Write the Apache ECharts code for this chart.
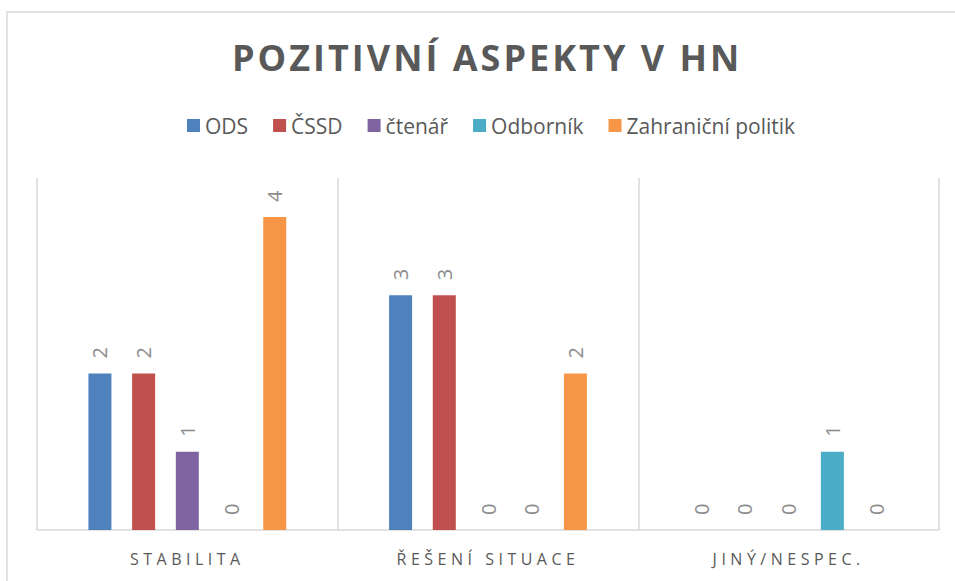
<!DOCTYPE html>
<html><head><meta charset="utf-8">
<script src="https://cdn.jsdelivr.net/npm/echarts@6/dist/echarts.min.js"></script>
<style>html,body{margin:0;padding:0;background:#fff}#c{width:955px;height:581px}</style>
</head><body><div id="c"></div>
<script>
const titleText = 'POZITIVNÍ ASPEKTY V HN';
const categories = ['STABILITA', 'ŘEŠENÍ SITUACE', 'JINÝ/NESPEC.'];
const seriesNames = ['ODS', 'ČSSD', 'čtenář', 'Odborník', 'Zahraniční politik'];
const ods = [2, 3, 0];
const cssd = [2, 3, 0];
const ctenar = [1, 0, 0];
const odbornik = [0, 0, 1];
const zahranicni = [4, 2, 0];
const seriesValues = [ods, cssd, ctenar, odbornik, zahranicni];
const colors = ['#4f81bd', '#c0504d', '#8064a2', '#4bacc6', '#f79646'];

const chart = echarts.init(document.getElementById('c'), null, {renderer: 'svg'});
const series = seriesNames.map((name, i) => ({
  name: name,
  type: 'bar',
  data: seriesValues[i],
  barWidth: 23,
  barGap: '90%',
  itemStyle: {color: colors[i]},
  label: {
    show: true,
    position: 'top',
    rotate: 90,
    align: 'left',
    verticalAlign: 'middle',
    distance: 15,
    fontFamily: 'Open Sans',
    fontSize: 20,
    color: '#8c8c8c'
  }
}));

chart.setOption({
  animation: false,
  color: colors,
  graphic: [{
    type: 'rect',
    shape: {x: 7, y: 12, width: 1000, height: 1000},
    style: {fill: 'none', stroke: '#d9d9d9', lineWidth: 1.5},
    silent: true
  }],
  title: {
    text: titleText,
    left: 232,
    top: 39,
    padding: 0,
    textStyle: {fontFamily: 'Open Sans', fontWeight: 'bold', fontSize: 36, color: '#595959'}
  },
  legend: {
    data: seriesNames,
    left: 187,
    top: 115,
    padding: 0,
    itemWidth: 13,
    itemHeight: 13,
    itemGap: 25,
    icon: 'rect',
    textStyle: {fontFamily: 'Open Sans', fontSize: 21, color: '#595959'}
  },
  grid: {left: 37, right: 16, top: 178, bottom: 51, containLabel: false},
  xAxis: {
    type: 'category',
    data: categories,
    axisLine: {lineStyle: {color: '#d9d9d9', width: 1.5}},
    axisTick: {show: false},
    axisLabel: {fontFamily: 'Open Sans', fontSize: 16, color: '#595959', margin: 21},
    splitLine: {show: true, lineStyle: {color: '#d9d9d9', width: 1.5}}
  },
  yAxis: {type: 'value', min: 0, max: 4.5, show: false},
  series: series
});

function applySpacing() {
  document.querySelectorAll('#c svg text').forEach(t => {
    const s = t.textContent;
    if (s === titleText) t.setAttribute('letter-spacing', '3');
    else if (categories.indexOf(s) >= 0) t.setAttribute('letter-spacing', '4.5');
  });
}
chart.on('finished', applySpacing);
applySpacing();
setTimeout(applySpacing, 30);
</script>
</body></html>
